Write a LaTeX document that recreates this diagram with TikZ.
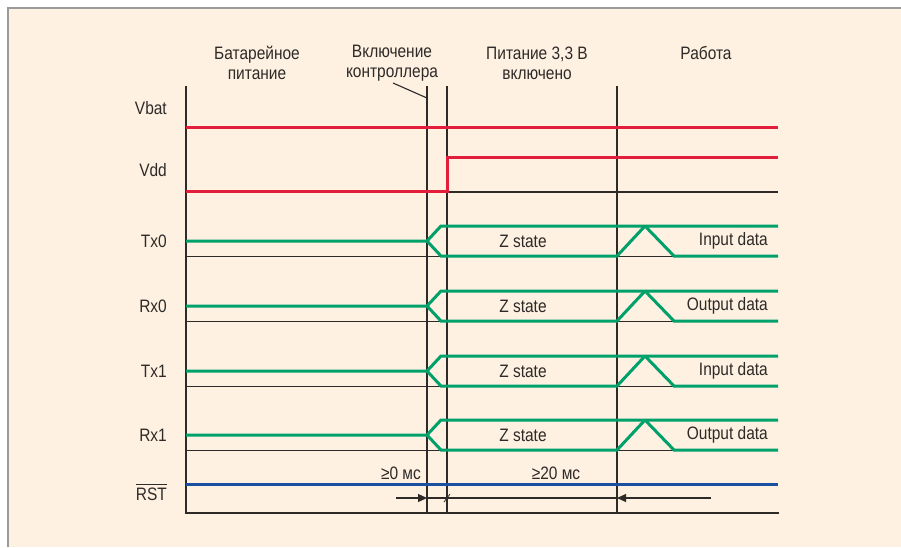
\documentclass[tikz,border=0pt]{standalone}
\usepackage{fontspec}
\setmainfont{Liberation Sans}[FakeStretch=0.86]
\usetikzlibrary{arrows.meta}
\definecolor{paper}{HTML}{FEF1E1}
\definecolor{framegray}{HTML}{9A9A9A}
\definecolor{ink}{HTML}{2E2A28}
\definecolor{sigred}{HTML}{E31E3C}
\definecolor{siggreen}{HTML}{00A06A}
\definecolor{sigblue}{HTML}{1A50A0}
\tikzset{
  lbl/.style={text=ink, inner sep=0pt},
  hdr/.style={text=ink, inner sep=0pt, align=center},
  grid/.style={draw=ink, line width=1.3pt},
  axis/.style={draw=ink, line width=2.2pt},
  base/.style={draw=ink, line width=1.3pt},
  redsig/.style={draw=sigred, line width=3pt},
  greensig/.style={draw=siggreen, line width=3pt, line join=miter},
  bluesig/.style={draw=sigblue, line width=3pt},
  dim/.style={draw=ink, line width=1.1pt},
  dimarrow/.style={dim, -{Triangle[length=9pt,width=8pt]}},
}
\begin{document}
\begin{tikzpicture}[x=1pt, y=-1pt, font=\fontsize{18}{20}\selectfont]
\useasboundingbox (0,0) rectangle (901,547);
% page and frame
\fill[white] (0,0) rectangle (901,547);
\fill[paper] (7,7) rectangle (901,547);
\draw[framegray, line width=2.5pt] (8,547) -- (8,8) -- (901,8);

% phase boundaries and axes
\coordinate (axTop) at (186,86);
\coordinate (axBot) at (186,513);
\coordinate (axEnd) at (779,513);
\foreach \x/\n in {427/a, 447/b, 617/c} {
  \coordinate (top\n) at (\x,86);
  \coordinate (bot\n) at (\x,513);
  \draw[grid] (top\n) -- (bot\n);
}
\draw[axis] (axTop) -- (axBot) -- (axEnd);

% phase headings
\node[hdr] (hBat) at (257,63) {Батарейное\\питание};
\node[hdr] (hOn) at (392,63) {Включение\\контроллера};
\node[hdr] (hPwr) at (537,63) {Питание 3,3 В\\включено};
\node[hdr] (hWork) at (706,53) {Работа};
\coordinate (ptrA) at (393,83);
\coordinate (ptrB) at (427,98);
\draw[dim] (ptrA) -- (ptrB);

% signal names
\node[lbl, anchor=east] (lVbat) at (167,108) {Vbat};
\node[lbl, anchor=east] (lVdd) at (167,170) {Vdd};
\node[lbl, anchor=east] (lRST) at (167,494) {RST};
\draw[ink, line width=0.9pt] ([yshift=3pt]lRST.north west) -- ([yshift=3pt]lRST.north east);

% supply rails
\coordinate (vbatL) at (186,127);
\coordinate (vbatR) at (778,127);
\draw[redsig] (vbatL) -- (vbatR);
\coordinate (vddBaseL) at (447,192);
\coordinate (vddBaseR) at (778,192);
\draw[base] (vddBaseL) -- (vddBaseR);
\coordinate (vddL) at (186,191);
\coordinate (vddStep) at (447,191);
\coordinate (vddHi) at (447,157);
\coordinate (vddR) at (778,157);
\draw[redsig, line join=miter] (vddL) -- (vddStep) -- (vddHi) -- (vddR);

% UART lines
\foreach \y/\name/\data in {241/Tx0/Input data, 306/Rx0/Output data,
                            371/Tx1/Input data, 435/Rx1/Output data} {
  \node[lbl, anchor=east] (l\name) at (167,\y) {\name};
  \draw[base] (186,\y+15.5) -- (778,\y+15.5);
  \draw[greensig] (186,\y) -- (427,\y) -- (441,\y-15) -- (778,\y-15);
  \draw[greensig] (427,\y) -- (441,\y+15) -- (617,\y+15) -- (645,\y-15);
  \draw[greensig] (645,\y-15) -- (674,\y+15) -- (778,\y+15);
  \node[lbl] (z\name) at (523,\y) {Z state};
  \node[lbl, anchor=east] (d\name) at (768,\y) {\data};
}

% reset line
\coordinate (rstL) at (186,484);
\coordinate (rstR) at (778,484);
\draw[bluesig] (rstL) -- (rstR);

% timing dimensions
\node[lbl, anchor=east] (t0) at (421,473) {≥0 мс};
\node[lbl] (t20) at (556,473) {≥20 мс};
\coordinate (dimL) at (396,498);
\coordinate (dimA) at (427,498);
\coordinate (dimC) at (617,498);
\coordinate (dimR) at (711,498);
\draw[dimarrow] (dimL) -- (dimA);
\draw[dim] (dimA) -- (dimC);
\draw[dimarrow] (dimR) -- (dimC);
\coordinate (tickA) at (444,502);
\coordinate (tickB) at (450,494);
\draw[dim, line width=0.8pt] (tickA) -- (tickB);
\end{tikzpicture}
\end{document}
